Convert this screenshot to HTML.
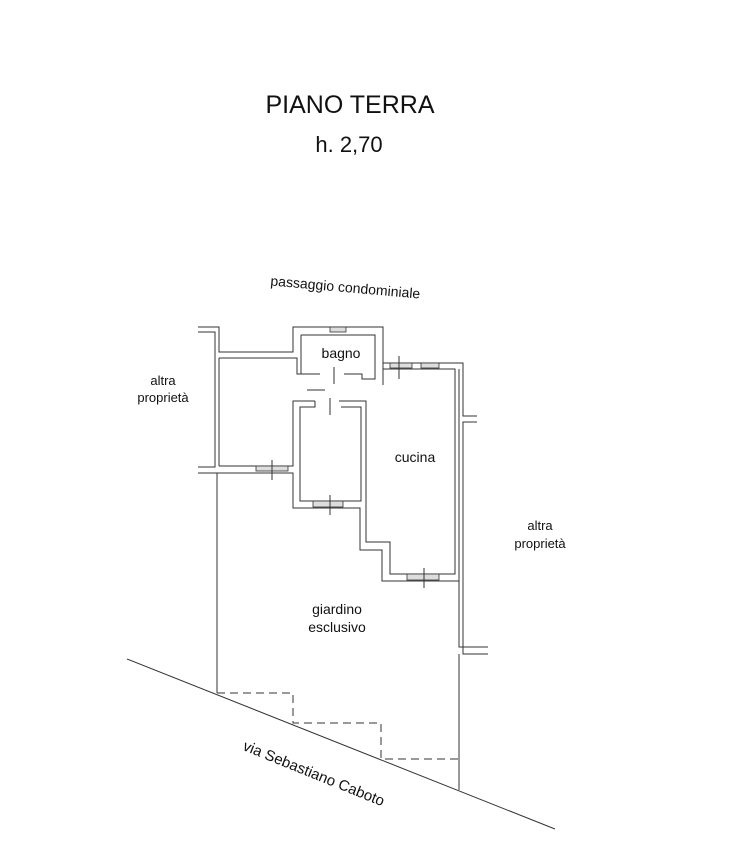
<!DOCTYPE html>
<html><head><style>
html,body{margin:0;padding:0;background:#fff;}
svg{display:block;}
text{font-family:"Liberation Sans",sans-serif;fill:#111;}
</style></head><body>
<svg width="731" height="843" viewBox="0 0 731 843" xmlns="http://www.w3.org/2000/svg">
<text x="350" y="113" font-size="25" text-anchor="middle">PIANO TERRA</text>
<text x="349" y="152" font-size="22" text-anchor="middle">h. 2,70</text>
<text x="345" y="292" font-size="14" text-anchor="middle" transform="rotate(5 345 292)">passaggio condominiale</text>
<text x="163" y="385" font-size="13" text-anchor="middle">altra</text>
<text x="163" y="402" font-size="13" text-anchor="middle">proprietà</text>
<text x="540" y="530" font-size="13" text-anchor="middle">altra</text>
<text x="540" y="548" font-size="13" text-anchor="middle">proprietà</text>
<text x="341" y="358" font-size="14" text-anchor="middle">bagno</text>
<text x="415" y="462" font-size="14" text-anchor="middle">cucina</text>
<text x="337" y="614" font-size="14" text-anchor="middle">giardino</text>
<text x="337" y="632" font-size="14" text-anchor="middle">esclusivo</text>
<text x="312" y="778" font-size="15" text-anchor="middle" transform="rotate(22 312 778)">via Sebastiano Caboto</text>
<g fill="none" stroke="#333" stroke-width="1">
<!-- left wall -->
<polyline points="198,332 215,332 215,467 198,467"/>
<polyline points="198,327 219,327 219,352 293,352 293,327 383,327 383,385"/>
<polyline points="219,358 297,358 297,374 320,374"/>
<line x1="219" y1="358" x2="219" y2="466"/>
<polyline points="219,466 293,466 293,401 315,401"/>
<polyline points="198,473 293,473 293,508 360,508 360,550 382,550 382,581 459,581 459,369"/>
<!-- bagno -->
<polyline points="301,335 375,335 375,379 362,379 362,374 344,374"/>
<polyline points="301,335 301,374"/>
<!-- kitchen -->
<polyline points="383,363 460,363 463,363 463,416 477,416"/>
<polyline points="383,369 455,369 455,574 390,574 390,542 366,542 366,401 339,401"/>
<polyline points="477,422 463,422 463,654 488,654"/>
<polyline points="459,581 459,647 488,647"/>
<!-- bedroom inner -->
<polyline points="315,401 315,407 300,407 300,501 361,501 361,407 341,407"/>
<line x1="383" y1="385" x2="383" y2="363"/>
<!-- garden boundaries -->
<line x1="217" y1="473" x2="217" y2="693"/>
<line x1="459" y1="654" x2="459" y2="790"/>
<line x1="127" y1="659" x2="555" y2="829"/>
<polyline points="217,693 293,693 293,723 381,723 381,759 459,759" stroke-dasharray="8,5"/>
<!-- door symbols -->
<line x1="334" y1="367" x2="334" y2="384"/>
<line x1="307" y1="390" x2="325" y2="390"/>
<line x1="330" y1="398" x2="330" y2="415"/>
</g>
<!-- windows -->
<g fill="#ddd" stroke="#333" stroke-width="0.8">
<rect x="330" y="327" width="16" height="5"/>
<rect x="390" y="363" width="22" height="5"/>
<rect x="421" y="363" width="18" height="5"/>
<rect x="256" y="466" width="32" height="5"/>
<rect x="313" y="501" width="30" height="6"/>
<rect x="407" y="574" width="32" height="6"/>
</g>
<g stroke="#333" stroke-width="1">
<line x1="399" y1="356" x2="399" y2="379"/>
<line x1="272" y1="460" x2="272" y2="480"/>
<line x1="330" y1="495" x2="330" y2="515"/>
<line x1="424" y1="568" x2="424" y2="588"/>
</g>
</svg>
</body></html>
